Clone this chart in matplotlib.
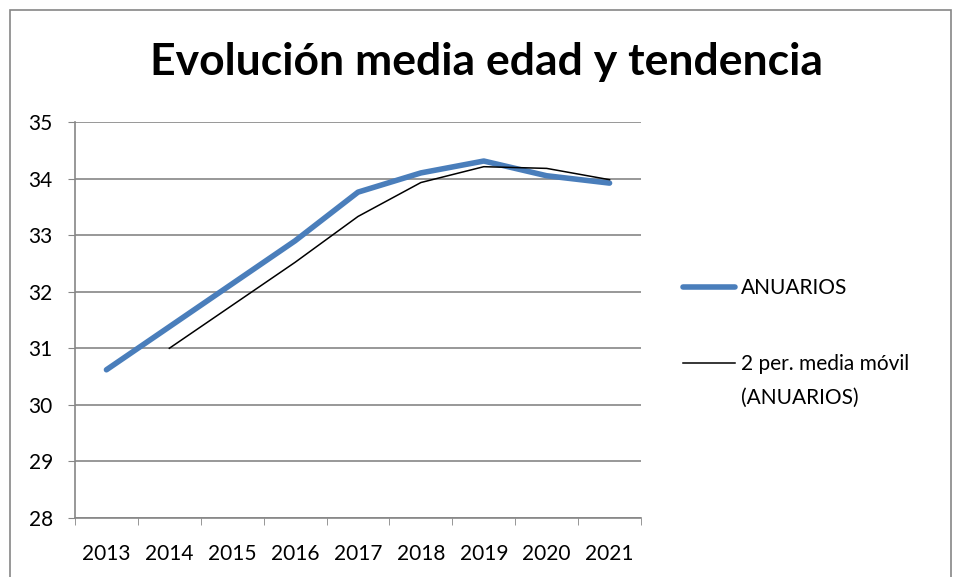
import matplotlib.pyplot as plt
import numpy as np
from matplotlib.patches import Rectangle

years = ["2013", "2014", "2015", "2016", "2017", "2018", "2019", "2020", "2021"]
anuarios = [30.62, 31.38, 32.14, 32.90, 33.76, 34.10, 34.31, 34.05, 33.92]
# 2-period moving average, starts at 2014
media_movil = [np.nan, 31.00, 31.76, 32.52, 33.33, 33.93, 34.21, 34.18, 33.98]

plt.rcParams['font.family'] = ['Lato', 'DejaVu Sans']

fig = plt.figure(figsize=(9.54, 5.77), dpi=100)
ax = fig.add_axes([75/954, 1-518/577, (641-75)/954, (518-122)/577])

x = np.arange(len(years))
ax.plot(x, anuarios, color="#4A7EBB", lw=4, solid_capstyle="round", label="ANUARIOS")
ax.plot(x, media_movil, color="black", lw=1.1, label="2 per. media móvil")

gray = "#868686"
ax.set_xlim(-0.5, 8.5)
ax.set_ylim(28, 35)
ax.set_yticks(range(28, 36))
ax.yaxis.grid(True, color=gray, lw=1.2)
ax.set_axisbelow(True)
ax.set_xticks(x)
ax.set_xticklabels(years)
ax.set_xticks(np.arange(-0.5, 9, 1), minor=True)
ax.tick_params(axis="x", which="major", length=0, pad=19, labelsize=15)
ax.tick_params(axis="x", which="minor", length=5, color=gray, direction="out")
ax.tick_params(axis="y", length=5, color=gray, labelsize=15, pad=11)
for s in ["top", "right"]:
    ax.spines[s].set_visible(False)
for s in ["left", "bottom"]:
    ax.spines[s].set_color(gray)
    ax.spines[s].set_linewidth(1.2)

fig.text(487/954, 1-62/577, "Evolución media edad y tendencia", ha="center", va="center",
         fontsize=32, fontweight="bold")

leg = ax.legend(loc="center left", bbox_to_anchor=(1.06, 0.485), borderaxespad=0, frameon=False,
                fontsize=15, handlelength=2.5, labelspacing=2.7, handletextpad=0.25)
# second line of the trendline label, below the first one
ax.annotate("(ANUARIOS)", xy=(0, 0.5), xycoords=leg.get_texts()[1],
            xytext=(0, -24.5), textcoords="offset points", va="center", ha="left",
            fontsize=15, zorder=10, annotation_clip=False)

fig.patches.append(Rectangle((10/954, -0.1), (951-10)/954, 1.1 - 10/577, transform=fig.transFigure,
                             fill=False, edgecolor=gray, lw=1.2))

fig.draw_without_rendering()
plt.savefig("out.png", dpi=100)
